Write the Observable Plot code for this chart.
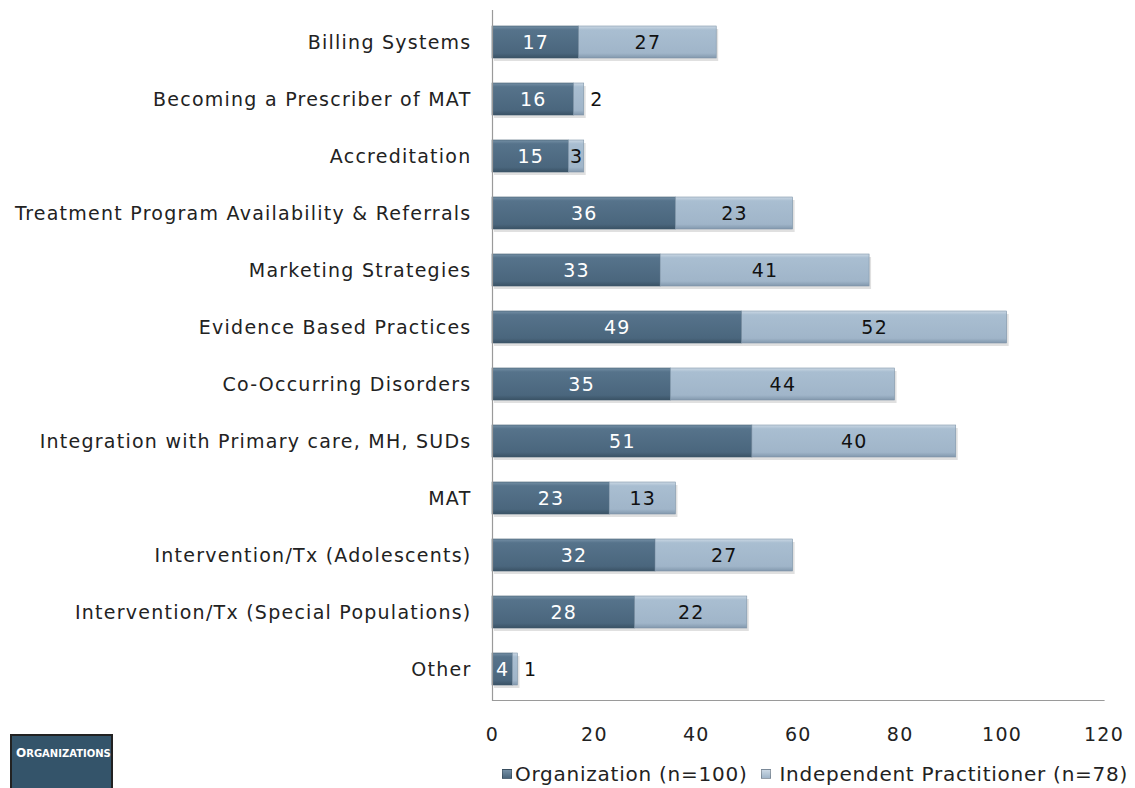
<!DOCTYPE html>
<html>
<head>
<meta charset="utf-8">
<script src="https://cdn.jsdelivr.net/npm/d3@7"></script>
<script src="https://cdn.jsdelivr.net/npm/@observablehq/plot@0.6"></script>
<style>
  html, body { margin: 0; padding: 0; background: #fff; }
  #wrap { position: relative; width: 1135px; height: 788px; overflow: hidden; font-family: "DejaVu Sans", sans-serif; }
  #legend { position: absolute; left: 502px; top: 762px; display: flex; align-items: center; font-size: 20px; letter-spacing: 0.75px; color: #222; white-space: nowrap; }
  .sw { display: inline-block; width: 10px; height: 10px; border: 1px solid rgba(0,0,0,0.25); box-sizing: border-box; }
  #orgbox { position: absolute; left: 10px; top: 734px; width: 103px; height: 60px; background: #34546a; border: 2px solid #222; box-sizing: border-box; color: #fff; font-family: "DejaVu Sans", sans-serif; font-weight: bold; font-size: 10px; padding: 10px 0 0 4px; }
  #orgbox .big { font-size: 12px; }
</style>
</head>
<body>
<div id="wrap">
  <div id="chart"></div>
  <div id="orgbox"><span class="big">O</span>RGANIZATIONS</div>
  <div id="legend"></div>
</div>
<script>
const categories = [
  "Billing Systems",
  "Becoming a Prescriber of MAT",
  "Accreditation",
  "Treatment Program Availability & Referrals",
  "Marketing Strategies",
  "Evidence Based Practices",
  "Co-Occurring Disorders",
  "Integration with Primary care, MH, SUDs",
  "MAT",
  "Intervention/Tx (Adolescents)",
  "Intervention/Tx (Special Populations)",
  "Other"
];
const organization = [17, 16, 15, 36, 33, 49, 35, 51, 23, 32, 28, 4];
const independent = [27, 2, 3, 23, 41, 52, 44, 40, 13, 27, 22, 1];
const seriesNames = ["Organization (n=100)", "Independent Practitioner (n=78)"];
const xTicks = [0, 20, 40, 60, 80, 100, 120];

const darkFill = "url(#gradDark)";
const lightFill = "url(#gradLight)";

const rows = [];
categories.forEach((c, i) => {
  rows.push({cat: c, series: seriesNames[0], x1: 0, x2: organization[i], v: organization[i]});
  rows.push({cat: c, series: seriesNames[1], x1: organization[i], x2: organization[i] + independent[i], v: independent[i]});
});
const orgRows = rows.filter(d => d.series === seriesNames[0]);
const indRows = rows.filter(d => d.series === seriesNames[1]);
const indInside = indRows.filter(d => d.v >= 3);
const indOutside = indRows.filter(d => d.v < 3);

const font = "DejaVu Sans, sans-serif";
const fs = 19;

const plot = Plot.plot({
  width: 1135,
  height: 752,
  marginLeft: 492,
  marginRight: 31.5,
  marginTop: 10,
  marginBottom: 52,
  style: {fontFamily: font, fontSize: fs + "px", letterSpacing: "1.25px", color: "#222", background: "transparent"},
  x: {domain: [0, 120], ticks: xTicks},
  y: {domain: categories, paddingInner: 0.44, paddingOuter: 0.22},
  marks: [
    Plot.axisX({ticks: xTicks, tickSize: 0, tickPadding: 27, fontSize: fs, label: null}),
    Plot.axisY({tickSize: 0, tickPadding: 21, fontSize: fs, label: null}),
    // shadows
    Plot.barX(rows, {x1: "x1", x2: "x2", y: "cat", fill: "#000", fillOpacity: 0.12, dx: 2, dy: 3}),
    Plot.barX(orgRows, {x1: "x1", x2: "x2", y: "cat", fill: darkFill, stroke: "#3f596d", strokeWidth: 0.6}),
    Plot.barX(indRows, {x1: "x1", x2: "x2", y: "cat", fill: lightFill, stroke: "#7f95a9", strokeWidth: 0.6}),
    Plot.text(orgRows, {x: d => (d.x1 + d.x2) / 2, y: "cat", text: d => String(d.v), fill: "#fff", fontSize: fs}),
    Plot.text(indInside, {x: d => (d.x1 + d.x2) / 2, y: "cat", text: d => String(d.v), fill: "#111", fontSize: fs}),
    Plot.text(indOutside, {x: "x2", y: "cat", text: d => String(d.v), fill: "#111", fontSize: fs, textAnchor: "start", dx: 6}),
    Plot.ruleX([0], {stroke: "#9a9a9a", strokeWidth: 1.2}),
    Plot.frame({anchor: "bottom", stroke: "#9a9a9a", strokeWidth: 1.2})
  ]
});

// gradient definitions
const ns = "http://www.w3.org/2000/svg";
const defs = document.createElementNS(ns, "defs");
function grad(id, stops) {
  const g = document.createElementNS(ns, "linearGradient");
  g.setAttribute("id", id);
  g.setAttribute("x1", "0"); g.setAttribute("y1", "0");
  g.setAttribute("x2", "0"); g.setAttribute("y2", "1");
  stops.forEach(([o, c]) => {
    const s = document.createElementNS(ns, "stop");
    s.setAttribute("offset", o);
    s.setAttribute("stop-color", c);
    g.appendChild(s);
  });
  defs.appendChild(g);
}
grad("gradDark", [[0, "#7590a6"], [0.12, "#56738b"], [0.85, "#4a667d"], [1, "#3a5265"]]);
grad("gradLight", [[0, "#cbd8e4"], [0.12, "#a9bed1"], [0.85, "#a0b5c9"], [1, "#8298ad"]]);
plot.insertBefore(defs, plot.firstChild);

document.getElementById("chart").appendChild(plot);

// legend
const legend = document.getElementById("legend");
const legendFills = ["linear-gradient(#7590a6, #4a667d)", "linear-gradient(#cbd8e4, #a0b5c9)"];
const swatchGap = ["3px", "8px"];
seriesNames.forEach((name, i) => {
  const item = document.createElement("span");
  item.style.display = "inline-flex";
  item.style.alignItems = "center";
  item.style.marginRight = i === 0 ? "14px" : "0";
  const sw = document.createElement("span");
  sw.className = "sw";
  sw.style.background = legendFills[i];
  sw.style.marginRight = swatchGap[i];
  item.appendChild(sw);
  item.appendChild(document.createTextNode(name));
  legend.appendChild(item);
});
</script>
</body>
</html>
